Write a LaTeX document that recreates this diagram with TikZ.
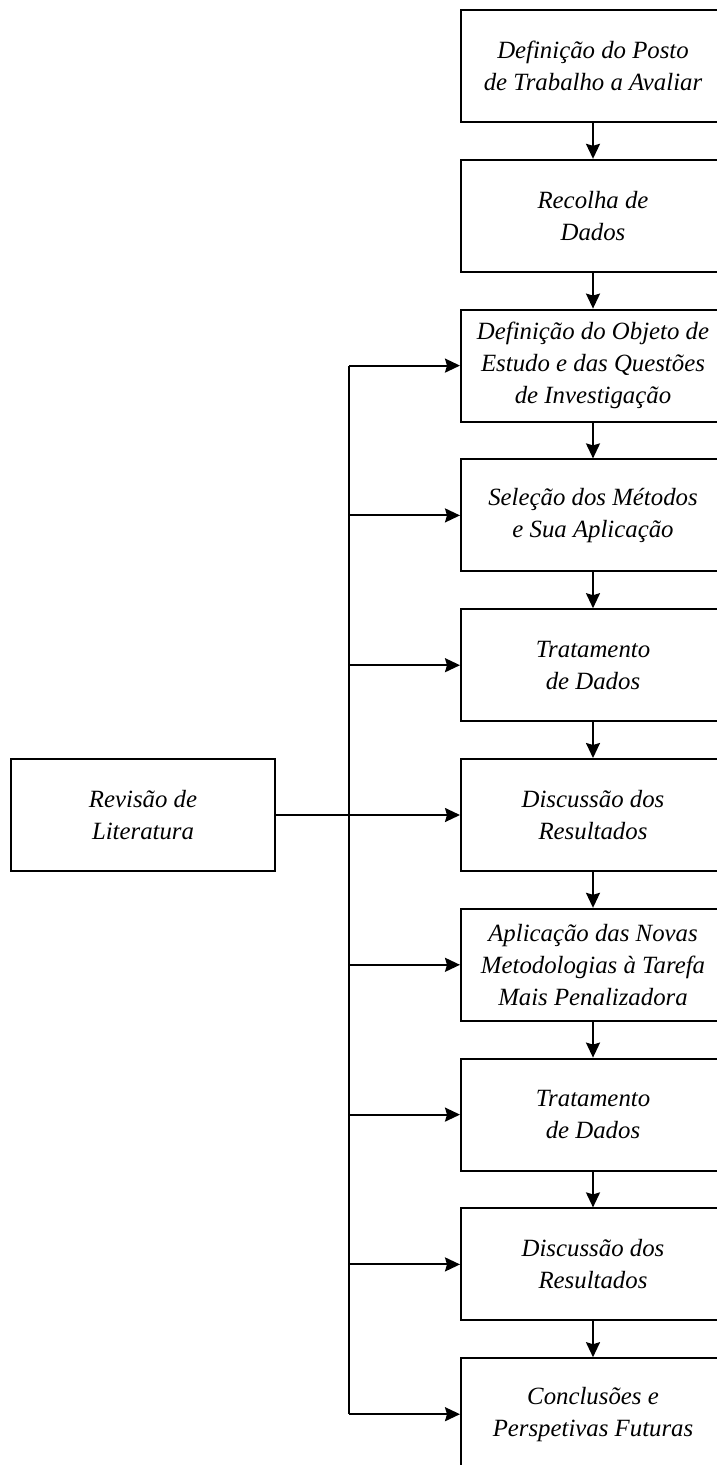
\documentclass[tikz,border=0pt]{standalone}
\usepackage{fontspec}
\setmainfont{Liberation Serif}
\usetikzlibrary{arrows.meta}
\begin{document}
\begin{tikzpicture}[x=1pt,y=-1pt,
  box/.style={draw,line width=2pt,minimum width=264pt,minimum height=112pt,align=center,inner sep=0pt,font=\fontsize{24.8}{32}\selectfont\itshape},
  arr/.style={line width=2pt,-{Stealth[length=15pt,width=14pt,inset=2pt]}},
  ln/.style={line width=2pt}]
\useasboundingbox (0,0) rectangle (717,1465);
\clip (0,0) rectangle (717,1465);
\node[box] (b1) at (593,66) {Definição do Posto\\de Trabalho a Avaliar};
\node[box] (b2) at (593,215.8) {Recolha de\\Dados};
\node[box] (b3) at (593,365.6) {Definição do Objeto de\\Estudo e das Questões\\de Investigação};
\node[box] (b4) at (593,515.4) {Seleção dos Métodos\\e Sua Aplicação};
\node[box] (b5) at (593,665.2) {Tratamento\\de Dados};
\node[box] (b6) at (593,815) {Discussão dos\\Resultados};
\node[box] (b7) at (593,964.8) {Aplicação das Novas\\Metodologias à Tarefa\\Mais Penalizadora};
\node[box] (b8) at (593,1114.6) {Tratamento\\de Dados};
\node[box] (b9) at (593,1264.4) {Discussão dos\\Resultados};
\node[box] (b10) at (593,1414.2) {Conclusões e\\Perspetivas Futuras};
\node[box] (lit) at (143,815) {Revisão de\\Literatura};
\foreach \a/\b in {b1/b2,b2/b3,b3/b4,b4/b5,b5/b6,b6/b7,b7/b8,b8/b9,b9/b10}
  \draw[arr] (\a.south) -- (\b.north);
\coordinate (v3) at (349,365.6);
\coordinate (v10) at (349,1414.2);
\draw[ln] (v3) -- (v10);
\foreach \n in {3,4,5,7,8,9,10}
  \draw[arr] (v3 |- b\n.west) -- (b\n.west);
\draw[arr] (lit.east) -- (b6.west);
\end{tikzpicture}
\end{document}
